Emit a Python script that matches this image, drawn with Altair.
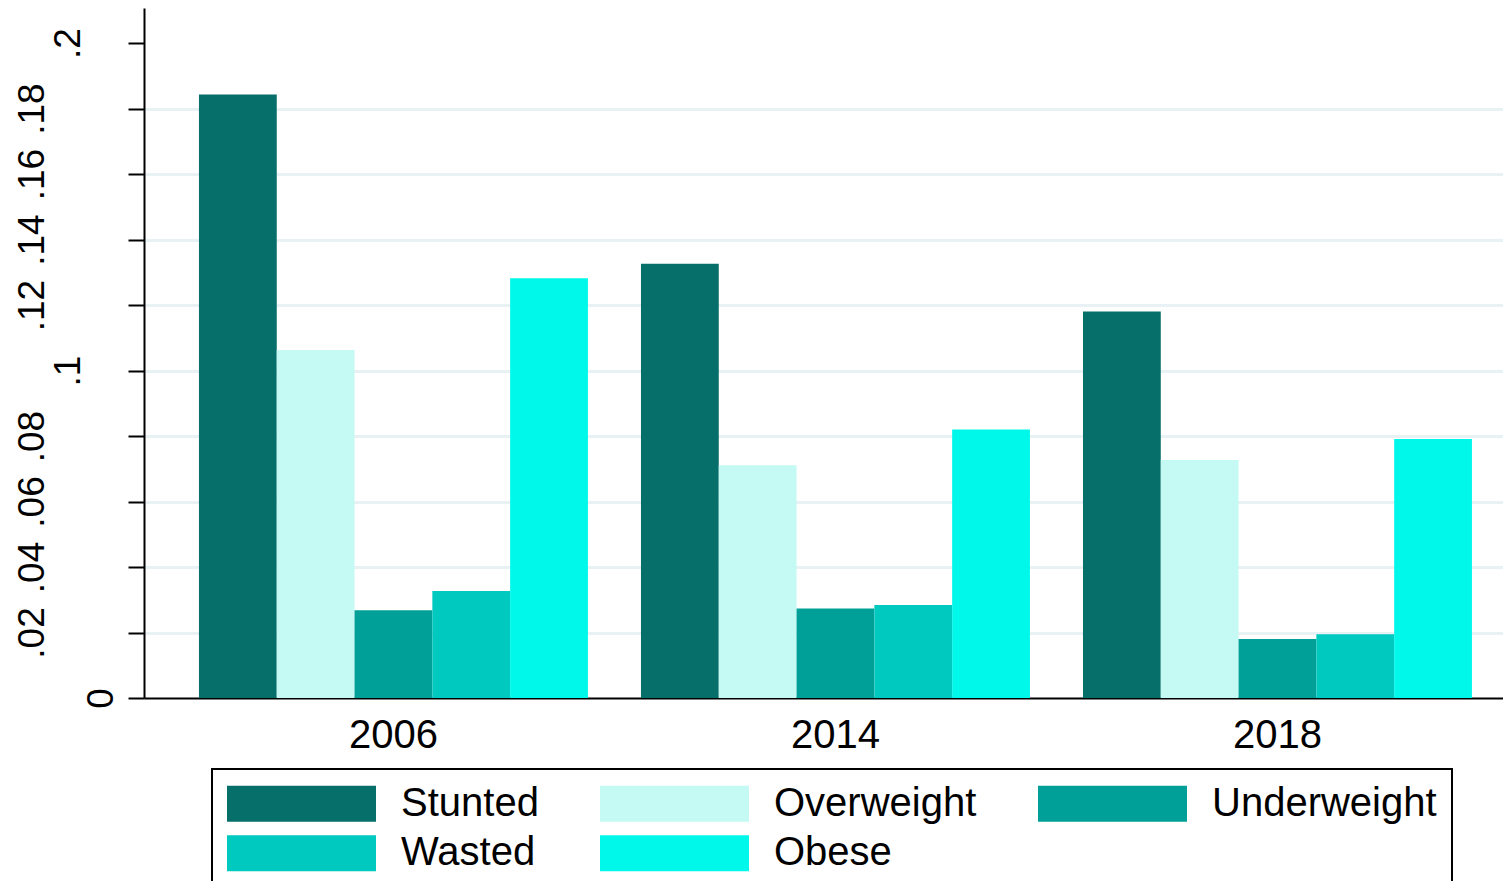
import altair as alt
import pandas as pd

# ---- data ----
years = ["2006", "2014", "2018"]
categories = ["Stunted", "Overweight", "Underweight", "Wasted", "Obese"]
stunted = [0.1843, 0.1326, 0.1180]
overweight = [0.1063, 0.0711, 0.0727]
underweight = [0.0268, 0.0273, 0.0180]
wasted = [0.0327, 0.0284, 0.0195]
obese = [0.1282, 0.0820, 0.0791]
colors = ["#076f69", "#c4faf3", "#009f97", "#00c9bf", "#00f8ea"]
y_ticks = [0, 0.02, 0.04, 0.06, 0.08, 0.1, 0.12, 0.14, 0.16, 0.18, 0.2]
y_max = 0.2107

series = dict(zip(categories, [stunted, overweight, underweight, wasted, obese]))
rows = [
    {"year": y, "group": c, "value": series[c][i]}
    for c in categories
    for i, y in enumerate(years)
]
df = pd.DataFrame(rows)

FONT = "Liberation Sans"
symbol_path = "M-1,-0.2416H1V0.2416H-1Z"

y_axis = alt.Axis(
    values=y_ticks,
    labelExpr="datum.value < 0.001 ? '0' : slice(format(datum.value, '.2~f'), 1)",
    labelAngle=270,
    labelAlign="center",
    labelBaseline="alphabetic",
    labelFont=FONT,
    labelFontSize=37,
    labelColor="black",
    labelOverlap=False,
    labelFlush=False,
    labelPadding={
        "condition": [
            {"test": "datum.value < 0.001", "value": 16},
            {"test": "abs(datum.value - 0.1) < 0.001 || abs(datum.value - 0.2) < 0.001", "value": 49},
        ],
        "value": 85,
    },
    tickSize=16,
    tickWidth=2,
    tickColor="black",
    domainColor="black",
    domainWidth=2,
    grid=True,
    gridColor="#e8f1f3",
    gridWidth=3,
    gridOpacity={
        "condition": {"test": "datum.value < 0.001 || datum.value > 0.19", "value": 0},
        "value": 1,
    },
)

x_axis = alt.Axis(
    labelAngle=0,
    labelFont=FONT,
    labelFontSize=40,
    labelColor="black",
    labelBaseline="alphabetic",
    labelPadding=49,
    ticks=False,
    tickSize=0,
    domainColor="black",
    domainWidth=2,
    grid=False,
)

legend = alt.Legend(
    title=None,
    orient="none",
    legendX=68,
    legendY=761,
    columns=3,
    direction="horizontal",
    symbolType=symbol_path,
    symbolSize=22201,
    symbolStrokeWidth=0,
    symbolOpacity=1,
    labelFont=FONT,
    labelFontSize=40,
    labelColor="black",
    labelOffset=25,
    labelLimit=0,
    columnPadding=61,
    rowPadding=8.7,
    clipHeight=39,
    padding=15,
    strokeColor="black",
)

chart = (
    alt.Chart(df)
    .mark_bar()
    .encode(
        x=alt.X(
            "year:N",
            sort=years,
            title=None,
            scale=alt.Scale(paddingInner=0.12, paddingOuter=0.0973, align=0.639),
            axis=x_axis,
        ),
        xOffset=alt.XOffset(
            "group:N", sort=categories, scale=alt.Scale(paddingInner=0, paddingOuter=0)
        ),
        y=alt.Y(
            "value:Q",
            title=None,
            scale=alt.Scale(domain=[0, y_max], nice=False, zero=True),
            axis=y_axis,
        ),
        color=alt.Color(
            "group:N",
            sort=categories,
            scale=alt.Scale(domain=categories, range=colors),
            legend=legend,
        ),
    )
    .properties(
        width=1359,
        height=690,
        padding={"left": 136, "top": 0, "right": 0, "bottom": 183},
        autosize=alt.AutoSizeParams(type="none"),
        background="white",
    )
    .configure_view(strokeWidth=0)
    .configure_legend(strokeWidth=2)
)

chart.save("out.html", embed_options={"renderer": "svg", "actions": False})
